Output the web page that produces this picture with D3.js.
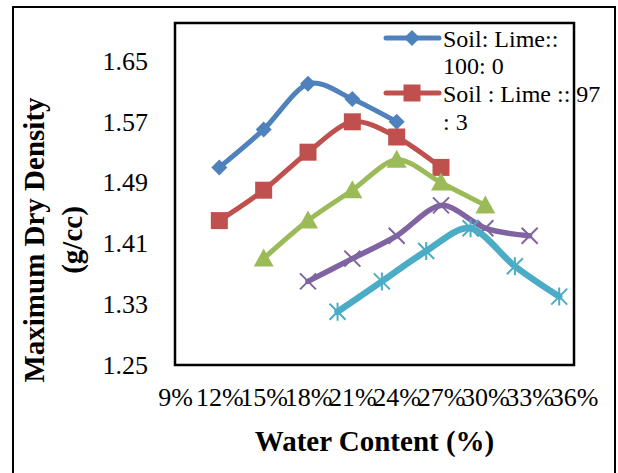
<!DOCTYPE html>
<html><head><meta charset="utf-8">
<script src="https://cdn.jsdelivr.net/npm/d3@7"></script>
<style>body{margin:0;background:#fff}svg{display:block}</style>
</head><body>
<script>
const xTicks = [9,12,15,18,21,24,27,30,33,36];
const yTicks = [1.25,1.33,1.41,1.49,1.57,1.65];
const seriesNames = ["Soil: Lime:: 100: 0","Soil : Lime :: 97 : 3","Soil : Lime :: 94 : 6","Soil : Lime :: 91 : 9","Soil : Lime :: 88 : 12"];
const s1x = [12,15,18,21,24];
const s1y = [1.51,1.56,1.62,1.60,1.57];
const s2x = [12,15,18,21,24,27];
const s2y = [1.44,1.48,1.53,1.57,1.55,1.51];
const s3x = [15,18,21,24,27,30];
const s3y = [1.39,1.44,1.48,1.52,1.49,1.46];
const s4x = [18,21,24,27,30,33];
const s4y = [1.36,1.39,1.42,1.46,1.43,1.42];
const s5x = [20,23,26,29,32,35];
const s5y = [1.32,1.36,1.40,1.43,1.38,1.34];
const colors = ["#4F81BD","#C0504D","#9BBB59","#8064A2","#4BACC6"];
const markers = ["diamond","square","triangle","x","star"];

const W=618,H=473;
const svg=d3.select("body").append("svg").attr("width",W).attr("height",H);
const font='"Liberation Serif","Times New Roman",serif';
const L=175,R=574,T=23,B=365;
const x=d3.scaleLinear().domain([9,36]).range([L,R]);
const y=d3.scaleLinear().domain([1.25,1.70]).range([B,T]);

// outer border
svg.append("rect").attr("x",13).attr("y",7).attr("width",602).attr("height",480)
  .attr("fill","none").attr("stroke","#000").attr("stroke-width",2);

// axes (labels only)
const yAxis=d3.axisLeft(y).tickValues(yTicks).tickFormat(d3.format(".2f")).tickSize(0).tickPadding(27);
const gy=svg.append("g").attr("transform",`translate(${L},0)`).call(yAxis);
gy.select(".domain").remove();
gy.selectAll("text").attr("font-family",font).attr("font-size",26).attr("fill","#000");
const xAxis=d3.axisBottom(x).tickValues(xTicks).tickFormat(d=>d+"%").tickSize(0).tickPadding(23);
const gx=svg.append("g").attr("transform",`translate(0,${B})`).call(xAxis);
gx.select(".domain").remove();
gx.selectAll("text").attr("font-family",font).attr("font-size",26).attr("fill","#000");

// titles
svg.append("text").attr("x",(L+R)/2).attr("y",451).attr("text-anchor","middle")
  .attr("font-family",font).attr("font-size",29).attr("font-weight","bold").text("Water Content (%)");
const yt=svg.append("text").attr("transform","translate(0,240) rotate(-90)").attr("text-anchor","middle")
  .attr("font-family",font).attr("font-size",29).attr("font-weight","bold");
yt.append("tspan").attr("x",0).attr("y",44).text("Maximum Dry Density");
yt.append("tspan").attr("x",0).attr("y",82).text("(g/cc)");

function drawMarker(g,type,cx,cy,color){
  if(type==="diamond"){
    g.append("path").attr("d",`M${cx},${cy-8}L${cx+8},${cy}L${cx},${cy+8}L${cx-8},${cy}Z`).attr("fill",color);
  }else if(type==="square"){
    g.append("rect").attr("x",cx-8.5).attr("y",cy-8.5).attr("width",17).attr("height",17).attr("fill",color);
  }else if(type==="triangle"){
    g.append("path").attr("d",`M${cx},${cy-10}L${cx+10},${cy+8}L${cx-10},${cy+8}Z`).attr("fill",color);
  }else if(type==="x"){
    g.append("path").attr("d",`M${cx-8},${cy-8}L${cx+8},${cy+8}M${cx-8},${cy+8}L${cx+8},${cy-8}`)
      .attr("stroke",color).attr("stroke-width",2);
  }else if(type==="star"){
    g.append("path").attr("d",`M${cx-8},${cy-8}L${cx+8},${cy+8}M${cx-8},${cy+8}L${cx+8},${cy-8}M${cx},${cy-9}L${cx},${cy+9}`)
      .attr("stroke",color).attr("stroke-width",2);
  }
}

const allX=[s1x,s2x,s3x,s4x,s5x], allY=[s1y,s2y,s3y,s4y,s5y];
const line=d3.line().x(d=>x(d[0])).y(d=>y(d[1])).curve(d3.curveCardinal.tension(0.1));
const widths=[5,5,5,5.5,6.5];
allX.forEach((xs,i)=>{
  const pts=xs.map((v,j)=>[v,allY[i][j]]);
  const g=svg.append("g");
  g.append("path").datum(pts).attr("d",line).attr("fill","none").attr("stroke",colors[i])
    .attr("stroke-width",widths[i]).attr("stroke-linecap","round").attr("stroke-linejoin","round");
  pts.forEach(p=>drawMarker(g,markers[i],x(p[0]),y(p[1]),colors[i]));
});

// legend (only first two entries visible)
const leg=svg.append("g");
const legLines=[["Soil: Lime::","100: 0"],["Soil : Lime :: 97",": 3"]];
[0,1].forEach(i=>{
  const ly=[38,93][i];
  leg.append("rect").attr("x",385).attr("y",ly-9).attr("width",55).attr("height",18).attr("fill","#fff");
  leg.append("line").attr("x1",386).attr("x2",439).attr("y1",ly).attr("y2",ly)
    .attr("stroke",colors[i]).attr("stroke-width",5).attr("stroke-linecap","round");
  drawMarker(leg,markers[i],412,ly,colors[i]);
  const t=leg.append("text").attr("font-family",font).attr("font-size",24).attr("fill","#000");
  t.append("tspan").attr("x",443).attr("y",[47,102][i]).text(legLines[i][0]);
  t.append("tspan").attr("x",443).attr("y",[74,130][i]).text(legLines[i][1]);
});

// plot border
svg.append("rect").attr("x",L).attr("y",T).attr("width",R-L).attr("height",B-T)
  .attr("fill","none").attr("stroke","#000").attr("stroke-width",2.5);
</script>
</body></html>
